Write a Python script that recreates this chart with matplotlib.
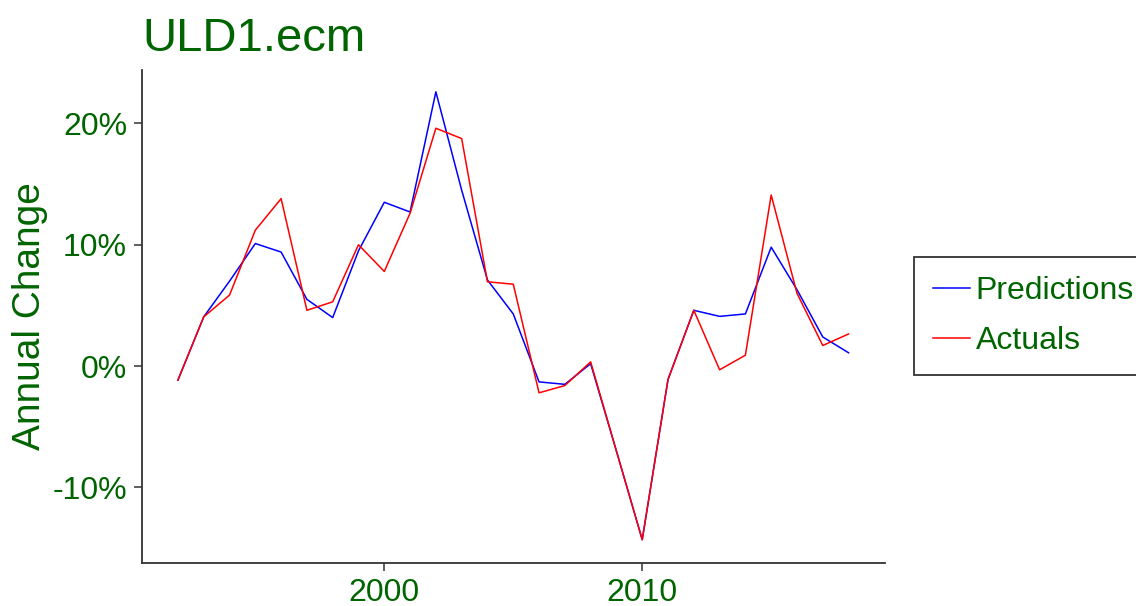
import numpy as np
import matplotlib
matplotlib.use('Agg')
import matplotlib.pyplot as plt
from matplotlib.ticker import PercentFormatter

plt.rcParams['font.family'] = ['Liberation Sans', 'DejaVu Sans']
plt.rcParams['axes.unicode_minus'] = False

# Dados (variação anual, em %)
anos = list(range(1992, 2019))
previsoes = [-1.15, 4.06, 7.0, 10.1, 9.4, 5.5, 4.0, 9.5, 13.5, 12.7, 22.6, 14.5, 7.1,
             4.3, -1.3, -1.5, 0.2, -7.0, -14.3, -1.1, 4.6, 4.1, 4.3, 9.8, 6.3, 2.4, 1.1]
reais = [-1.15, 4.06, 5.85, 11.2, 13.8, 4.6, 5.3, 10.0, 7.8, 12.6, 19.6, 18.75, 6.95,
         6.75, -2.2, -1.6, 0.35, -7.0, -14.3, -1.1, 4.6, -0.3, 0.9, 14.1, 6.0, 1.7, 2.65]

verde = '#006400'

fig = plt.figure(figsize=(11.36, 6.06), dpi=100)
ax = fig.add_axes([0.1253, 0.0714, 0.6537, 0.8131])

l1, = ax.plot(anos, previsoes, color='blue', lw=1.1, label='Predictions')
l2, = ax.plot(anos, reais, color='red', lw=1.1, label='Actuals')

ax.set_xlim(1990.62, 2019.41)
ax.set_ylim(-16.2, 24.4)
ax.set_xticks([2000, 2010])
ax.set_yticks([-10, 0, 10, 20])
ax.yaxis.set_major_formatter(PercentFormatter(xmax=100, decimals=0))

for s in ['top', 'right']:
    ax.spines[s].set_visible(False)
for s in ['left', 'bottom']:
    ax.spines[s].set_linewidth(1.3)
    ax.spines[s].set_color('#333333')

ax.tick_params(axis='both', length=6, width=1.1, color='#333333', pad=5,
               labelsize=23, labelcolor=verde)

ax.set_ylabel('Annual Change', fontsize=28, color=verde, labelpad=3)
ax.set_title('ULD1.ecm', loc='left', fontsize=34, color=verde, pad=14)

leg = fig.legend(handles=[l1, l2], loc='center left',
                 bbox_to_anchor=(914 / 1136, (606 - 316) / 606),
                 fontsize=23, frameon=True, fancybox=False,
                 handlelength=1.15, handletextpad=0.18, labelspacing=0.62,
                 borderpad=0.6, borderaxespad=0)
leg.get_frame().set_edgecolor('black')
leg.get_frame().set_linewidth(1.3)
for t in leg.get_texts():
    t.set_color(verde)

fig.savefig('out.png', dpi=100)
